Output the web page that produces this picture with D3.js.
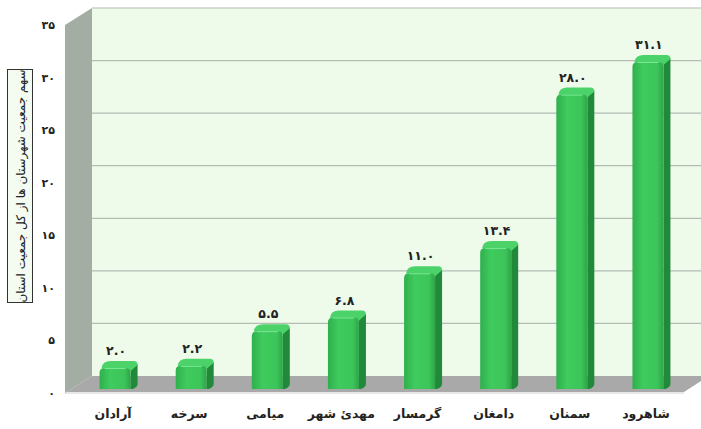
<!DOCTYPE html>
<html><head><meta charset="utf-8">
<script src="https://cdn.jsdelivr.net/npm/d3@7"></script>
<style>
html,body{margin:0;padding:0;background:#fff;}
svg{display:block;font-family:"DejaVu Sans",sans-serif;}
</style></head>
<body><svg id="c" width="701" height="429"></svg>
<script>
const categories = ["آرادان","سرخه","میامی","مهدئ شهر","گرمسار","دامغان","سمنان","شاهرود"];
const values = [2.0, 2.2, 5.5, 6.8, 11.0, 13.4, 28.0, 31.1];
const yTicks = [0,5,10,15,20,25,30,35];
const yTitle = "سهم جمعیت شهرستان ها از کل جمعیت استان";

const fa = s => String(s).replace(/[0-9]/g, d => "۰۱۲۳۴۵۶۷۸۹"[+d]);
const svg = d3.select("#c");
const defs = svg.append("defs");

const frontG = defs.append("linearGradient").attr("id","front").attr("x1","0").attr("x2","1").attr("y1","0").attr("y2","0");
frontG.append("stop").attr("offset","0").attr("stop-color","#2fb04c");
frontG.append("stop").attr("offset","0.35").attr("stop-color","#3fcb5e");
frontG.append("stop").attr("offset","0.8").attr("stop-color","#3cc55a");
frontG.append("stop").attr("offset","1").attr("stop-color","#2ea548");

// geometry
const DX = 27, DY = -17;           // wall depth offset
const x0 = 65, x1 = 674;           // front floor edge
const yAxis = d3.scaleLinear().domain([0,35]).range([393,25]);
const yBar = d3.scaleLinear().domain([0,35]).range([389, 389-368]);
const x = d3.scaleBand().domain(categories).range([75,684]).padding(0);

// back wall
svg.append("rect").attr("x",x0+DX).attr("y",yAxis(35)+DY).attr("width",701-(x0+DX)).attr("height",yAxis(0)-yAxis(35))
  .attr("fill","#eefbea");
// left wall
svg.append("polygon").attr("points",[[x0,yAxis(35)],[x0+DX,yAxis(35)+DY],[x0+DX,yAxis(0)+DY],[x0,yAxis(0)]].join(" "))
  .attr("fill","#a3ada3");
// gridlines on back wall
svg.append("g").selectAll("line").data(yTicks.filter(d=>d>0)).join("line")
  .attr("x1",x0+DX).attr("x2",701).attr("y1",d=>yAxis(d)+DY).attr("y2",d=>yAxis(d)+DY)
  .attr("stroke","#b4bcb4").attr("stroke-width",1.2);
// floor
svg.append("polygon").attr("points",[[x0,yAxis(0)],[x0+DX,yAxis(0)+DY],[701,yAxis(0)+DY],[701,yAxis(0)-12],[684,yAxis(0)-1],[x0,yAxis(0)-1]].join(" "))
  .attr("fill","#a9a9a9");
svg.append("line").attr("x1",x0).attr("x2",684).attr("y1",yAxis(0)).attr("y2",yAxis(0)).attr("stroke","#d0d0d0");

// y axis labels
const ax = svg.append("g").attr("transform","translate(55,0)")
  .call(d3.axisLeft(yAxis).tickValues(yTicks).tickSize(0).tickPadding(0).tickFormat(d=>fa(d)));
ax.select(".domain").remove();
ax.selectAll("text").attr("font-size",11).attr("font-weight","bold").attr("fill","#222").attr("font-family","DejaVu Sans");

// bars
const W = 31, BD = 7;
const bars = svg.append("g").selectAll("g").data(values).join("g");
bars.each(function(v,i){
  const g = d3.select(this);
  const c = x(categories[i]) + x.bandwidth()/2 + 2;
  const l = c - W/2, r = c + W/2, t = yBar(v), b = yBar(0);
  const r5 = 5;
  // side
  g.append("path").attr("d",`M${r},${t+2} L${r+BD},${t-BD+3} L${r+BD},${b-BD+2} Q${r+BD},${b-BD+5} ${r+2},${b} L${r},${b} Z`).attr("fill","#20893a");
  // top
  g.append("path").attr("d",`M${l+2},${t} Q${l+3},${t-BD} ${l+BD+4},${t-BD} L${r+BD-4},${t-BD} Q${r+BD},${t-BD} ${r+BD},${t-BD+4} L${r},${t+3} Z`).attr("fill","#4bd36a");
  // front
  g.append("path").attr("d",`M${l},${b} L${l},${t+r5} Q${l},${t} ${l+r5},${t} L${r-r5},${t} Q${r},${t} ${r},${t+r5} L${r},${b} Z`).attr("fill","url(#front)");
  g.append("line").attr("x1",l+r5).attr("x2",r-r5).attr("y1",t+0.5).attr("y2",t+0.5).attr("stroke","#7ee796").attr("stroke-width",1);
  // value label
  g.append("text").attr("x",c+1).attr("y",t-13).attr("text-anchor","middle")
    .attr("font-size",12.5).attr("font-weight","bold").attr("fill","#222").text(fa(v.toFixed(1)));
});

// x labels
svg.append("g").selectAll("text").data(categories).join("text")
  .attr("x",d=>x(d)+x.bandwidth()/2).attr("y",418).attr("text-anchor","middle").attr("direction","rtl")
  .attr("font-size",12.5).attr("font-weight","bold").attr("fill","#222").text(d=>d);

// y title box
svg.append("rect").attr("x",7.5).attr("y",69.5).attr("width",25).attr("height",233).attr("fill","#f4fbf0").attr("stroke","#333").attr("stroke-width",1);
svg.append("text").attr("transform","translate(24.5,186) rotate(-90)").attr("text-anchor","middle").attr("direction","rtl")
  .attr("font-size",12).attr("fill","#222").text(yTitle);
</script></body></html>
